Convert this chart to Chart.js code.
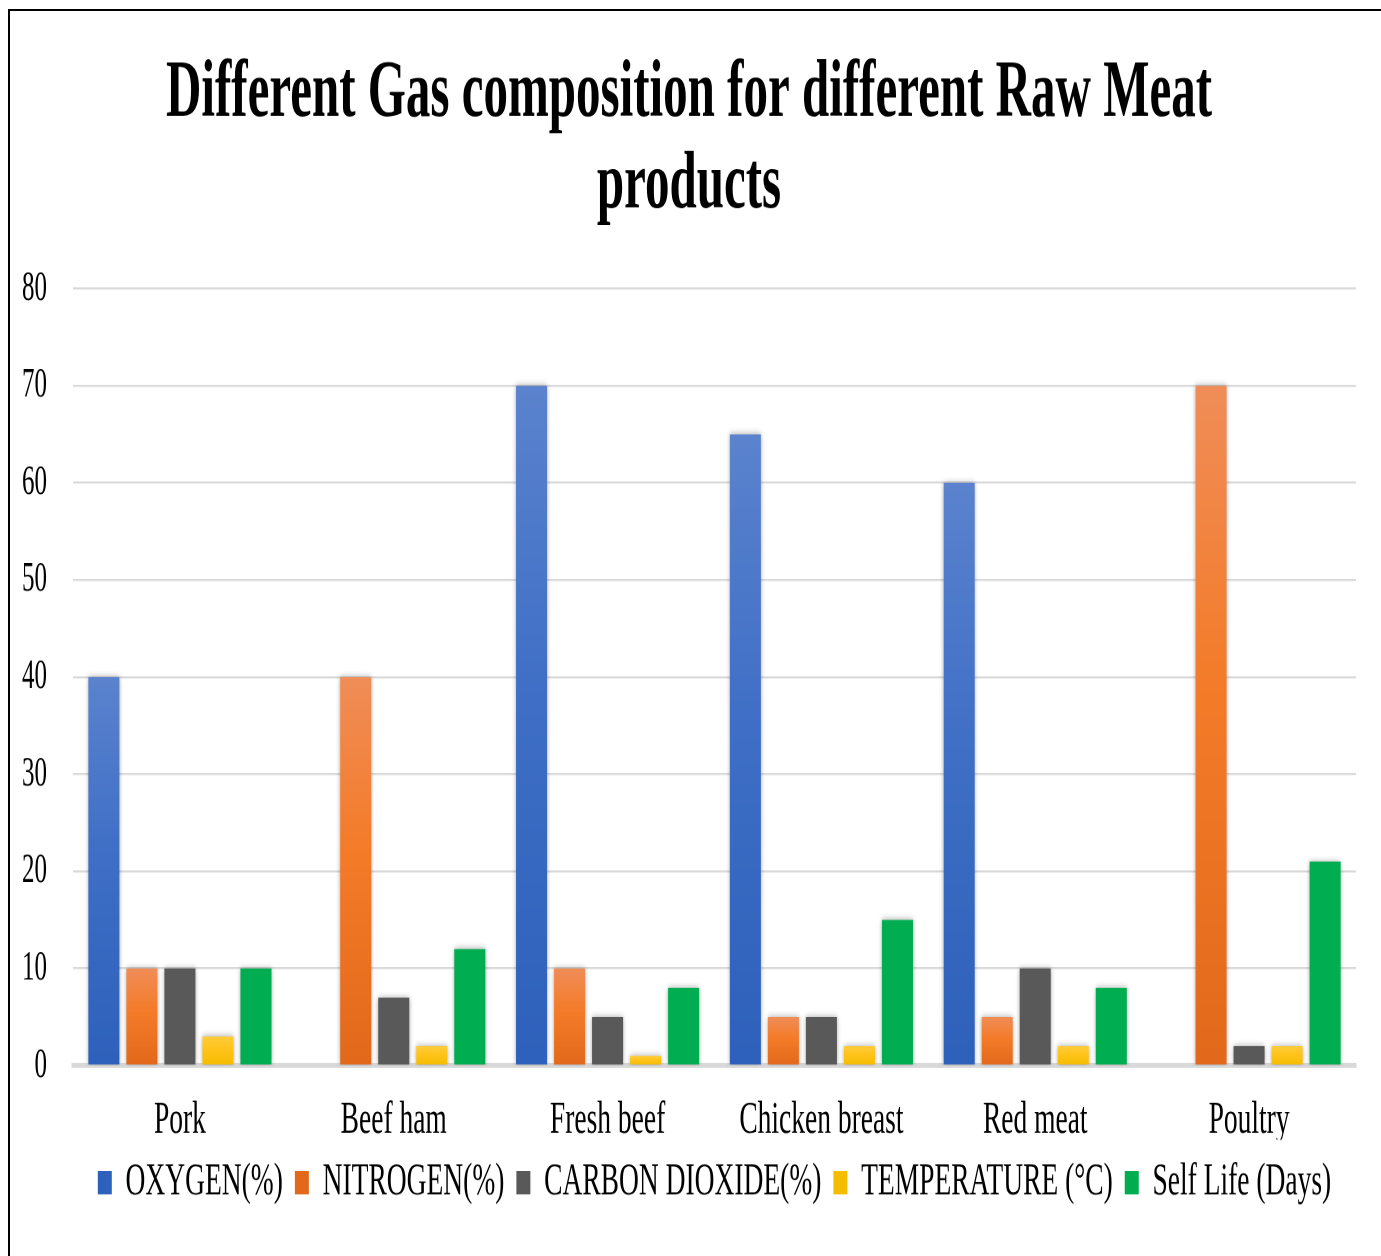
<!DOCTYPE html>
<html>
<head>
<meta charset="utf-8">
<title>Different Gas composition for different Raw Meat products</title>
<script src="https://cdn.jsdelivr.net/npm/chart.js@4.4.1/dist/chart.umd.min.js"></script>
<style>
  html, body { margin: 0; padding: 0; background: #fff; overflow: hidden; }
  #frame { position: absolute; left: 8px; top: 9px; width: 1500px; height: 1400px; border: 2px solid #000; }
  #chart { position: absolute; left: 0; top: 0; width: 1381px; height: 1256px; }
</style>
</head>
<body>
<div id="frame"></div>
<!-- drawn at 1381x754 and stretched to 1256 tall, like the squeezed original -->
<canvas id="chart" width="1381" height="754" style="width:1381px;height:1256px"></canvas>
<script>
const categories = ['Pork', 'Beef ham', 'Fresh beef', 'Chicken breast', 'Red meat', 'Poultry'];
const oxygen = [40, 0, 70, 65, 60, 0];
const nitrogen = [10, 40, 10, 5, 5, 70];
const carbonDioxide = [10, 7, 5, 5, 10, 2];
const temperature = [3, 2, 1, 2, 2, 2];
const shelfLife = [10, 12, 8, 15, 8, 21];
const yTicks = [0, 10, 20, 30, 40, 50, 60, 70, 80];

const serif = "'Liberation Serif', 'Times New Roman', serif";

// vertical gradient per bar, light top -> darker base (Excel style)
function barGradient(top, mid, bottom) {
    return function(context) {
        if (context.type !== 'data') return mid;
        const chart = context.chart;
        const y = chart.scales.y;
        if (!chart.chartArea || !y) return mid;
        const yTop = y.getPixelForValue(context.parsed.y);
        const yBase = y.getPixelForValue(0);
        if (!(yBase - yTop > 0)) return mid;
        const g = chart.ctx.createLinearGradient(0, yTop, 0, yBase);
        g.addColorStop(0, top);
        g.addColorStop(0.45, mid);
        g.addColorStop(1, bottom);
        return g;
    };
}

const barShadow = {
    id: 'barShadow',
    beforeDatasetsDraw(chart) {
        const c = chart.ctx;
        c.save();
        c.shadowColor = 'rgba(0, 0, 0, 0.35)';
        c.shadowBlur = 8;
        c.shadowOffsetX = 0;
        c.shadowOffsetY = 0;
    },
    afterDatasetsDraw(chart) {
        chart.ctx.restore();
    }
};

const ctx = document.getElementById('chart').getContext('2d');
new Chart(ctx, {
    type: 'bar',
    data: {
        labels: categories,
        datasets: [
            { label: 'OXYGEN(%)', data: oxygen, backgroundColor: barGradient('#5B83CE', '#3F6FC6', '#2E61BB') },
            { label: 'NITROGEN(%)', data: nitrogen, backgroundColor: barGradient('#F08D58', '#F47B28', '#E2691B') },
            { label: 'CARBON DIOXIDE(%)', data: carbonDioxide, backgroundColor: '#595959' },
            { label: 'TEMPERATURE (°C)', data: temperature, backgroundColor: barGradient('#FFCC3C', '#FFC31A', '#F5BD00') },
            { label: 'Self Life (Days)', data: shelfLife, backgroundColor: '#00AD50' }
        ]
    },
    options: {
        responsive: false,
        devicePixelRatio: 2,
        animation: false,
        categoryPercentage: 0.889,
        barPercentage: 0.816,
        borderWidth: 0,
        layout: {
            padding: { top: 10, left: 22, right: 25, bottom: 20.3 }
        },
        scales: {
            x: {
                grid: { display: false, drawTicks: false },
                border: { display: true, color: '#D9D9D9', width: 3 },
                ticks: {
                    padding: 19.5,
                    color: '#000',
                    font: { family: serif, size: 27.5, lineHeight: 0.985 }
                },
                // chart.js counts the tick padding twice, pin the band height
                afterFit: scale => { scale.height = 44.5; scale.paddingLeft = 0; scale.paddingRight = 0; }
            },
            y: {
                min: 0,
                max: 80,
                afterBuildTicks: axis => { axis.ticks = yTicks.map(v => ({ value: v })); },
                grid: { color: '#D9D9D9', lineWidth: 1.3, drawTicks: false },
                border: { display: false },
                ticks: {
                    padding: 26,
                    color: '#000',
                    font: { family: serif, size: 25 }
                },
                afterFit: scale => { scale.width = 51; }
            }
        },
        plugins: {
            title: {
                display: true,
                text: ['Different Gas composition for different Raw Meat', 'products'],
                color: '#000',
                font: { family: serif, size: 49, weight: 'bold', lineHeight: 1.12 },
                padding: { top: 19.5, bottom: 34 }
            },
            legend: {
                position: 'bottom',
                fullSize: false,
                labels: {
                    boxWidth: 14,
                    boxHeight: 14,
                    padding: 12,
                    color: '#000',
                    font: { family: serif, size: 27.5 }
                }
            },
            tooltip: { enabled: false }
        }
    },
    plugins: [barShadow]
});
</script>
</body>
</html>
